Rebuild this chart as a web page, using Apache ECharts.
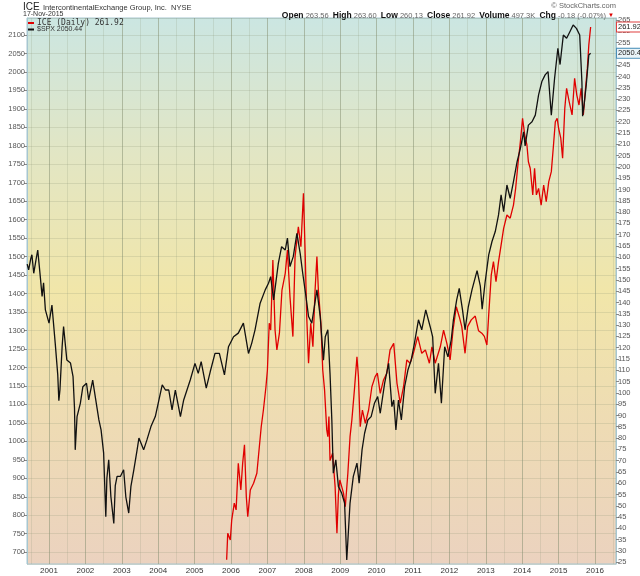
<!DOCTYPE html>
<html>
<head>
<meta charset="utf-8">
<script src="https://cdn.jsdelivr.net/npm/echarts@6/dist/echarts.min.js"></script>
<style>
html,body{margin:0;padding:0;background:#fff;}
#chart{width:640px;height:576px;}
</style>
</head>
<body>
<div id="chart"></div>
<script>
// S&P 500 ($SPX) – decimal year / close
const spxDates = [2000.40,2000.44,2000.50,2000.53,2000.58,2000.64,2000.69,2000.76,2000.81,2000.85,2000.90,2001.00,2001.08,2001.17,2001.24,2001.27,2001.30,2001.36,2001.40,2001.49,2001.59,2001.66,2001.70,2001.72,2001.77,2001.86,2001.93,2002.03,2002.09,2002.20,2002.27,2002.37,2002.43,2002.50,2002.56,2002.59,2002.64,2002.70,2002.78,2002.82,2002.87,2002.96,2003.05,2003.11,2003.19,2003.25,2003.33,2003.42,2003.47,2003.60,2003.69,2003.80,2003.92,2004.02,2004.11,2004.20,2004.29,2004.38,2004.47,2004.61,2004.70,2004.79,2004.88,2005.01,2005.10,2005.18,2005.32,2005.43,2005.56,2005.68,2005.82,2005.93,2006.07,2006.20,2006.34,2006.48,2006.57,2006.66,2006.80,2006.94,2007.03,2007.09,2007.17,2007.30,2007.39,2007.49,2007.55,2007.62,2007.71,2007.81,2007.90,2007.97,2008.06,2008.13,2008.22,2008.36,2008.45,2008.54,2008.59,2008.66,2008.72,2008.77,2008.81,2008.88,2008.95,2009.04,2009.12,2009.18,2009.27,2009.36,2009.46,2009.52,2009.60,2009.67,2009.76,2009.85,2009.94,2010.03,2010.10,2010.22,2010.33,2010.42,2010.47,2010.53,2010.60,2010.68,2010.77,2010.86,2010.95,2011.04,2011.15,2011.24,2011.35,2011.47,2011.54,2011.61,2011.70,2011.78,2011.87,2011.96,2012.05,2012.11,2012.20,2012.27,2012.36,2012.43,2012.52,2012.62,2012.76,2012.85,2012.90,2012.98,2013.08,2013.17,2013.26,2013.35,2013.42,2013.49,2013.58,2013.67,2013.76,2013.86,2013.95,2014.04,2014.08,2014.17,2014.27,2014.36,2014.45,2014.54,2014.63,2014.71,2014.80,2014.89,2014.98,2015.04,2015.13,2015.22,2015.31,2015.40,2015.49,2015.58,2015.64,2015.66,2015.70,2015.76,2015.83,2015.88];
const spxValues = [1480,1464,1495,1505,1455,1490,1518,1446,1392,1429,1356,1320,1369,1266,1180,1110,1139,1256,1311,1220,1212,1175,1090,977,1067,1103,1148,1157,1112,1166,1121,1058,1031,969,796,900,950,850,778,880,905,905,923,850,806,878,923,977,1009,977,1004,1040,1067,1112,1153,1139,1139,1085,1139,1067,1112,1139,1166,1211,1184,1216,1144,1189,1238,1238,1180,1256,1283,1293,1320,1238,1266,1302,1374,1410,1428,1446,1383,1482,1527,1518,1550,1473,1500,1563,1509,1455,1392,1338,1320,1410,1338,1220,1283,1302,1184,1058,914,950,878,860,833,679,833,905,941,887,977,1022,1058,1067,1103,1121,1076,1157,1211,1094,1112,1031,1112,1058,1148,1193,1220,1266,1329,1302,1356,1311,1283,1130,1211,1103,1256,1229,1275,1329,1383,1414,1356,1302,1365,1410,1462,1420,1358,1430,1505,1541,1568,1613,1667,1622,1694,1658,1703,1757,1793,1838,1800,1856,1865,1883,1938,1974,1992,2001,1883,1983,2064,2020,2100,2091,2109,2127,2118,2100,1974,1880,1911,1965,2046,2050.44];

// IntercontinentalExchange (ICE) – decimal year / close
const iceDates = [2005.88,2005.91,2005.98,2006.02,2006.09,2006.14,2006.20,2006.27,2006.32,2006.37,2006.42,2006.46,2006.53,2006.62,2006.71,2006.77,2006.83,2006.89,2006.96,2007.00,2007.05,2007.09,2007.15,2007.21,2007.26,2007.33,2007.40,2007.49,2007.55,2007.62,2007.70,2007.76,2007.85,2007.92,2007.99,2008.04,2008.08,2008.13,2008.19,2008.25,2008.31,2008.36,2008.40,2008.47,2008.52,2008.57,2008.63,2008.66,2008.69,2008.72,2008.79,2008.86,2008.91,2008.95,2008.99,2009.09,2009.14,2009.21,2009.27,2009.32,2009.39,2009.46,2009.50,2009.55,2009.61,2009.69,2009.78,2009.87,2009.96,2010.02,2010.10,2010.19,2010.28,2010.37,2010.47,2010.56,2010.65,2010.74,2010.83,2010.92,2011.01,2011.13,2011.24,2011.34,2011.45,2011.52,2011.61,2011.75,2011.84,2011.93,2012.02,2012.10,2012.19,2012.27,2012.34,2012.43,2012.50,2012.60,2012.71,2012.80,2012.89,2012.96,2013.03,2013.08,2013.15,2013.21,2013.28,2013.35,2013.42,2013.49,2013.58,2013.67,2013.76,2013.82,2013.89,2013.95,2014.01,2014.07,2014.13,2014.17,2014.22,2014.29,2014.34,2014.39,2014.45,2014.52,2014.59,2014.66,2014.73,2014.80,2014.86,2014.91,2014.96,2015.00,2015.06,2015.11,2015.17,2015.22,2015.29,2015.37,2015.44,2015.50,2015.56,2015.62,2015.68,2015.74,2015.79,2015.83,2015.88];
const iceValues = [26.1,37.9,34.9,43.8,51.2,48.2,68.8,57.0,68.8,77.0,54.1,45.2,57.0,60.0,64.4,74.7,85.0,92.4,102.7,110.1,130.8,127.8,158.8,127.8,119.0,126.4,145.5,152.9,163.2,142.6,124.9,160.3,173.5,164.7,188.3,160.3,133.7,113.1,130.8,120.4,145.5,160.3,145.5,130.8,110.1,101.3,83.6,80.6,89.5,70.0,73.3,58.5,37.9,55.0,61.5,55.6,49.6,64.4,80.6,88.0,101.3,116.0,107.2,85.0,92.4,86.5,92.4,102.7,107.2,108.7,99.8,105.7,108.7,119.0,121.9,104.2,95.4,102.7,114.6,113.1,117.5,124.9,117.5,119.0,113.1,120.4,113.1,120.4,127.8,121.9,114.6,127.8,138.1,133.7,129.3,117.5,129.3,132.3,134.0,127.5,126.4,125.0,121.2,134.5,152.2,158.1,149.2,158.1,165.4,172.8,178.7,177.3,183.1,190.5,202.3,211.2,221.5,214.1,209.7,202.3,199.4,187.6,199.4,187.6,190.5,183.1,192.0,184.6,193.5,197.9,209.7,220.0,221.5,217.1,212.7,203.8,225.9,234.8,228.9,223.0,239.2,231.8,227.4,234.8,223.0,234.8,243.6,253.9,261.92];

const spxLast = 2050.44;
const iceLast = 261.92;

const spxData = spxDates.map((d, i) => [d, spxValues[i]]);
const iceData = iceDates.map((d, i) => [d, iceValues[i]]);

const X_MIN = 2000.395, X_MAX = 2016.577;
const FONT = 'Liberation Sans, Arial, sans-serif';

const chart = echarts.init(document.getElementById('chart'), null, {renderer: 'canvas'});
chart.setOption({
  animation: false,
  backgroundColor: '#ffffff',
  grid: {
    left: 27, right: 24, top: 18, bottom: 12,
    show: true,
    borderColor: '#a6c6d0',
    borderWidth: 1,
    backgroundColor: {
      type: 'linear', x: 0, y: 0, x2: 0, y2: 1,
      colorStops: [
        {offset: 0, color: '#cbe6e2'},
        {offset: 0.25, color: '#e2e6c4'},
        {offset: 0.5, color: '#f1e6a9'},
        {offset: 0.75, color: '#eedbb4'},
        {offset: 1, color: '#ebd2bf'}
      ]
    }
  },
  legend: [
    {
      data: [{name: 'ICE (Daily)'}],
      left: 28, top: 19, itemWidth: 6, itemHeight: 2, itemGap: 2, icon: 'rect',
      padding: 0,
      formatter: () => 'ICE (Daily) ' + iceLast.toFixed(2),
      textStyle: {fontFamily: 'DejaVu Sans Mono, monospace', fontSize: 8, color: '#333', padding: [0,0,0,-2]}
    },
    {
      data: [{name: '$SPX'}],
      left: 28, top: 26, itemWidth: 6, itemHeight: 2, icon: 'rect',
      padding: 0,
      formatter: () => '$SPX ' + spxLast.toFixed(2),
      textStyle: {fontFamily: FONT, fontSize: 7, color: '#333', padding: [0,0,0,-2]}
    }
  ],
  graphic: [
    {type: 'text', left: 23, top: 1, style: {
      text: '{a|ICE} {b|IntercontinentalExchange Group, Inc.  NYSE}',
      rich: {
        a: {fontSize: 10, fontFamily: FONT, fill: '#222'},
        b: {fontSize: 7.5, fontFamily: FONT, fill: '#333', padding: [1, 0, 0, 0]}
      }
    }},
    {type: 'text', left: 23, top: 11, style: {text: '17-Nov-2015', font: '7px ' + FONT, fill: '#333'}},
    {type: 'text', right: 24, top: 2, style: {text: '\u00A9 StockCharts.com', font: '7.5px ' + FONT, fill: '#666'}},
    {type: 'text', right: 26, top: 11, style: {
      text: '{b|Open} 263.56  {b|High} 263.60  {b|Low} 260.13  {b|Close} 261.92  {b|Volume} 497.3K  {b|Chg} -0.18 (-0.07%) {r|\u25BC}',
      font: '7.5px ' + FONT, fill: '#666',
      rich: {
        b: {fontWeight: 'bold', fontSize: 8.5, fill: '#111', fontFamily: FONT},
        r: {fill: '#d00', fontSize: 6, fontFamily: FONT}
      }
    }}
  ],
  xAxis: [
    {
      type: 'value', min: X_MIN, max: X_MAX, splitNumber: 16,
      axisLine: {show: false}, axisTick: {show: false},
      axisLabel: {
        show: true, showMinLabel: false, showMaxLabel: false,
        fontSize: 8, fontFamily: FONT, color: '#333', margin: 3,
        formatter: v => String(Math.round(v))
      },
      splitLine: {show: true, lineStyle: {color: 'rgba(130,140,110,0.4)', width: 1}}
    },
    {
      type: 'value', min: X_MIN, max: X_MAX, splitNumber: 32,
      axisLine: {show: false}, axisTick: {show: false}, axisLabel: {show: false},
      splitLine: {show: true, lineStyle: {color: 'rgba(140,150,120,0.2)', width: 1}}
    }
  ],
  yAxis: [
    {
      type: 'value', position: 'left', min: 668, max: 2146, splitNumber: 30,
      axisLine: {show: true, lineStyle: {color: '#a6c6d0'}},
      axisTick: {show: true, length: 3, lineStyle: {color: '#888'}},
      axisLabel: {showMinLabel: false, showMaxLabel: false, fontSize: 7.5, fontFamily: FONT, color: '#555', margin: 2,
        formatter: v => String(Math.round(v))},
      splitLine: {show: true, lineStyle: {color: 'rgba(140,150,120,0.22)', width: 1}}
    },
    {
      type: 'value', position: 'right', min: 24.25, max: 265.9, splitNumber: 48,
      axisLine: {show: true, lineStyle: {color: '#a6c6d0'}},
      axisTick: {show: true, length: 3, lineStyle: {color: '#888'}},
      axisLabel: {showMinLabel: false, showMaxLabel: false, fontSize: 7.5, fontFamily: FONT, color: '#555', margin: 2,
        formatter: v => String(Math.round(v))},
      splitLine: {show: false}
    }
  ],
  series: [
    {
      name: 'ICE (Daily)', type: 'line', xAxisIndex: 0, yAxisIndex: 1,
      data: iceData, showSymbol: false, symbol: 'none',
      color: '#e00000',
      lineStyle: {color: '#e00000', width: 1.3},
      z: 2,
      markLine: {
        silent: true, symbol: 'none', animation: false,
        lineStyle: {color: 'transparent', width: 0},
        data: [{yAxis: iceLast}],
        label: {
          position: 'end', distance: 1, formatter: iceLast.toFixed(2),
          fontSize: 7.5, fontFamily: FONT, color: '#222',
          backgroundColor: '#ffffff', borderColor: '#e04040', borderWidth: 1, padding: [1, 1, 0, 1]
        }
      }
    },
    {
      name: '$SPX', type: 'line', xAxisIndex: 0, yAxisIndex: 0,
      data: spxData, showSymbol: false, symbol: 'none',
      color: '#111111',
      lineStyle: {color: '#111111', width: 1.3},
      z: 3,
      markLine: {
        silent: true, symbol: 'none', animation: false,
        lineStyle: {color: 'transparent', width: 0},
        data: [{yAxis: spxLast}],
        label: {
          position: 'end', distance: 1, formatter: '2050.4',
          fontSize: 7.5, fontFamily: FONT, color: '#222',
          backgroundColor: '#eaf4f8', borderColor: '#4a8fb8', borderWidth: 1, padding: [1, 1, 0, 1]
        }
      }
    }
  ]
});
</script>
</body>
</html>
